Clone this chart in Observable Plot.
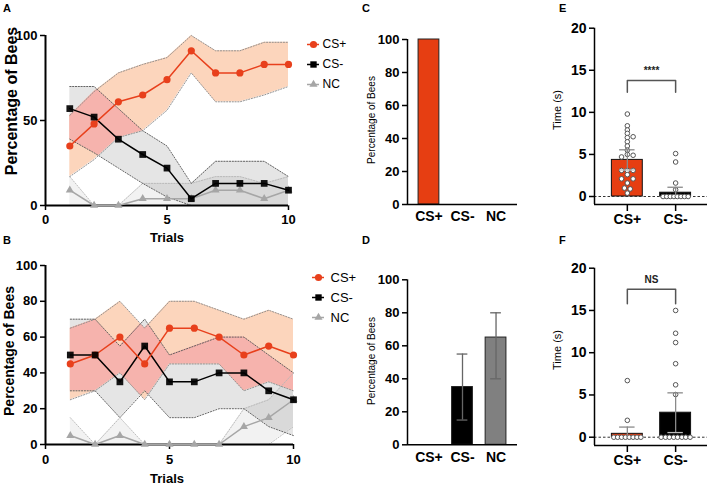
<!DOCTYPE html>
<html><head><meta charset="utf-8">
<script src="https://cdn.jsdelivr.net/npm/d3@7"></script>
<script src="https://cdn.jsdelivr.net/npm/@observablehq/plot@0.6"></script>
<style>
body{margin:0;background:#fff;}
#fig{position:relative;width:708px;height:487px;overflow:hidden;background:#fff;font-family:"Liberation Sans",Arial,sans-serif;color:#000;}
#fig svg{position:absolute;overflow:visible;}
.lab{position:absolute;white-space:nowrap;line-height:1;}
.rot{transform:translate(-50%,-50%) rotate(-90deg);}
.ctr{transform:translate(-50%,-50%);}
.ytick13 [aria-label^="y-axis"] text{font-size:13px;}
.ytick14 [aria-label^="y-axis"] text{font-size:14px;}
#fig [aria-label^="x-axis"] line,#fig [aria-label^="y-axis"] line,#fig [aria-label$="-axis tick"] path{stroke-width:1.5px;}
</style></head><body><div id="fig"></div>
<script>
// ---------- data ----------
const trials = [1,2,3,4,5,6,7,8,9,10];
// Panel A
const aCSplus    = [35,48,61,65,74,91,78,78,83,83];
const aCSplusLo  = [17,27,40,44,56,78,61,61,65,70];
const aCSplusHi  = [53,67,78,83,87,100,91,91,96,96];
const aCSminus   = [57,52,39,30,22,4,13,13,13,9];
const aCSminusLo = [39,31,22,13,5,0,0,0,0,0];
const aCSminusHi = [70,70,57,44,35,13,26,26,26,17];
const aNC        = [9,0,0,4,4,4,9,9,4,9];
const aNCLo      = [0,0,0,0,0,0,0,0,0,0];
const aNCHi      = [17,0,0,13,13,13,17,17,13,17];
// Panel B
const bCSplus    = [45,50,60,45,65,65,60,50,55,50];
const bCSplusLo  = [25,30,40,25,45,45,45,30,35,30];
const bCSplusHi  = [65,70,80,65,80,80,75,70,75,70];
const bCSminus   = [50,50,35,55,35,35,40,40,30,25];
const bCSminusLo = [30,30,15,30,15,15,20,20,10,5];
const bCSminusHi = [70,70,55,70,50,55,60,60,50,40];
const bNC        = [5,0,5,0,0,0,0,10,15,25];
const bNCLo      = [0,0,0,0,0,0,0,0,0,10];
const bNCHi      = [15,0,15,0,0,0,0,20,25,40];
// Panels C, D
const groups3  = ["CS+","CS-","NC"];
const cPercent = [100,0,0];
const dPercent = [0,35,65];
const dLow     = [0,15,40];
const dHigh    = [0,55,80];
// Panels E, F
const groups2 = ["CS+","CS-"];
const eMean = [4.35,0.45];
const eLow  = [3.15,0];
const eHigh = [5.55,1.1];
const ePlusTimes   = [9.8,8.4,7.9,7.5,7.0,7.1,6.5,6.0,5.5,5.0,4.7,4.9,3.1,3.1,3.1,2.6,2.1,2.1,1.6,1.0,0.9,0.4];
const ePlusJitter  = [0,0,0,0,0,0.12,0,0,0,0,-0.12,0.12,0,-0.12,0.12,0,-0.12,0.12,0,-0.06,0.06,0];
const eMinusTimes  = [5.1,4.1,1.6,0.8,0,0,0,0,0,0,0,0];
const eMinusJitter = [0,0,0,0,-0.26,-0.185,-0.11,-0.035,0.035,0.11,0.185,0.26];
const fMean = [0.4,2.9];
const fLow  = [0,0.55];
const fHigh = [1.2,5.25];
const fPlusTimes   = [6.7,2.0,0,0,0,0,0,0,0,0];
const fPlusJitter  = [0,0,-0.28,-0.2,-0.12,-0.04,0.04,0.12,0.2,0.28];
const fMinusTimes  = [15.0,12.3,11.2,8.7,6.2,5.05,0,0,0,0,0,0,0,0];
const fMinusJitter = [0,0,0,0,0,0,-0.3,-0.21,-0.13,-0.04,0.04,0.13,0.21,0.3];
const sigE = {x1:0, x2:1, top:13.8, leg:12.4, label:"****", ly:14.9};
const sigF = {x1:0, x2:1, top:17.5, leg:15.8, label:"NS", ly:18.6};
// Legend
const legendNames   = ["CS+","CS-","NC"];
const legendSymbols = ["circle","square","triangle"];
const legendColors  = ["#e8401c","#000000","#a6a6a6"];

// ---------- helpers ----------
const FONT = "Liberation Sans, Arial, sans-serif";
const fig = document.getElementById("fig");
function put(el, left, top){ el.style.left = left+"px"; el.style.top = top+"px"; fig.appendChild(el); return el; }
function label(text, x, y, size, weight, rotate){
  const d = document.createElement("div");
  d.className = "lab " + (rotate ? "rot" : "ctr");
  d.textContent = text;
  d.style.fontSize = size+"px"; d.style.fontWeight = weight;
  return put(d, x, y);
}
function corner(text, x, y){
  const d = document.createElement("div");
  d.className = "lab"; d.textContent = text;
  d.style.fontSize = "11px"; d.style.fontWeight = "bold";
  return put(d, x, y);
}
const rowsOf = arr => trials.map((t,i)=>({t, v:arr[i]}));
const bandOf = (lo,hi) => trials.map((t,i)=>({t, lo:lo[i], hi:hi[i]}));
function overlapOf(lo1,hi1,lo2,hi2){
  const rows=[], n=trials.length;
  for(let i=0;i<n;i++){
    const fs=[0];
    if(i<n-1){
      for(const [a,b] of [[lo1,lo2],[hi1,hi2],[lo1,hi2],[lo2,hi1]]){
        const d0=a[i]-b[i], d1=a[i+1]-b[i+1];
        if(d0*d1<0) fs.push(d0/(d0-d1));
      }
    }
    fs.sort((p,q)=>p-q);
    for(const f of fs){
      const L = arr => i<n-1 ? arr[i]+(arr[i+1]-arr[i])*f : arr[i];
      const t = i<n-1 ? trials[i]+(trials[i+1]-trials[i])*f : trials[i];
      const y1=Math.max(L(lo1),L(lo2)), y2=Math.min(L(hi1),L(hi2));
      rows.push({t, y1, y2:Math.max(y1,y2)});
    }
  }
  return rows;
}

function trialPanel(p, o){
  const dotted = (arr, c) => Plot.line(rowsOf(arr), {x:"t", y:"v", stroke:c, strokeWidth:0.9, strokeDasharray:"1.2,1.6"});
  return Plot.plot({
    width:o.w, height:o.h, marginLeft:o.ml, marginRight:o.mr, marginTop:o.mt, marginBottom:o.mb,
    className:"ytick13",
    style:{fontFamily:FONT, fontSize:"13px", fontWeight:"bold", color:"#000", background:"transparent"},
    x:{domain:[0,10], ticks:[0,5,10], tickSize:5, tickPadding:o.tp, label:null},
    y:{domain:[0,100], ticks:o.yticks, tickSize:5, tickPadding:3, label:null},
    marks:[
      Plot.areaY(bandOf(p.ncLo,p.ncHi), {x:"t", y1:"lo", y2:"hi", fill:"#000", fillOpacity:0.05}),
      Plot.areaY(bandOf(p.mLo,p.mHi), {x:"t", y1:"lo", y2:"hi", fill:"#000", fillOpacity:0.1}),
      Plot.areaY(bandOf(p.pLo,p.pHi), {x:"t", y1:"lo", y2:"hi", fill:"#fcd5bc"}),
      Plot.areaY(overlapOf(p.pLo,p.pHi,p.mLo,p.mHi), {x:"t", y1:"y1", y2:"y2", fill:"#f6b3ad"}),
      dotted(p.ncHi,"#b5b5b5"), dotted(p.ncLo,"#b5b5b5"),
      dotted(p.mHi,"#555"), dotted(p.mLo,"#555"),
      dotted(p.pHi,"#888"), dotted(p.pLo,"#888"),
      Plot.ruleY([0], {strokeWidth:2}),
      Plot.ruleX([0], {strokeWidth:2}),
      Plot.line(rowsOf(p.nc), {x:"t", y:"v", stroke:"#a6a6a6", strokeWidth:1.5}),
      Plot.dot(rowsOf(p.nc), {x:"t", y:"v", symbol:"triangle", fill:"#a6a6a6", r:3}),
      Plot.line(rowsOf(p.m), {x:"t", y:"v", stroke:"#000", strokeWidth:1.5}),
      Plot.line(rowsOf(p.p), {x:"t", y:"v", stroke:"#e8401c", strokeWidth:1.5}),
      Plot.dot(rowsOf(p.p), {x:"t", y:"v", symbol:"circle", fill:"#e8401c", r:3.6}),
      Plot.dot(rowsOf(p.m), {x:"t", y:"v", symbol:"square", fill:"#000", fillOpacity:0.92, r:3.8})
    ]
  });
}

function legendPlot(textX, size){
  const marks = [];
  legendNames.forEach((nm,i)=>{
    marks.push(Plot.ruleY([nm], {y:d=>d, x1:7, x2:19, stroke:legendColors[i], strokeWidth:1.5}));
    marks.push(Plot.dot([nm], {x:13, y:d=>d, symbol:legendSymbols[i], fill:legendColors[i], r:i===2?3:3.6}));
  });
  marks.push(Plot.text(legendNames, {x:textX, y:d=>d, text:d=>d, textAnchor:"start", fill:"#000"}));
  return Plot.plot({
    width:70, height:60, margin:0,
    style:{fontFamily:FONT, fontSize:size+"px", fontWeight:"normal", background:"transparent", color:"#000"},
    x:{domain:[0,70], range:[0,70], axis:null},
    y:{type:"point", domain:legendNames, range:[10,50], padding:0, axis:null},
    marks
  });
}

function barPanel(vals, lo, hi, o){
  const fills = ["#e63e12","#000000","#808080"];
  const rows = groups3.map((g,i)=>({i, g, v:vals[i], lo:lo ? lo[i] : null, hi:hi ? hi[i] : null, c:fills[i]}));
  const marks = [
    Plot.rect(rows.filter(d=>d.v>0), {x1:d=>d.i-0.31, x2:d=>d.i+0.31, y1:0, y2:"v", fill:"c", stroke:"#222", strokeWidth:1}),
  ];
  if(lo){
    const er = rows.filter(d=>d.hi>0);
    marks.push(Plot.ruleX(er, {x:"i", y1:"lo", y2:"hi", stroke:"#666", strokeWidth:1.3}));
    marks.push(Plot.ruleY(er, {y:"hi", x1:d=>d.i-0.16, x2:d=>d.i+0.16, stroke:"#666", strokeWidth:1.3}));
    marks.push(Plot.ruleY(er, {y:"lo", x1:d=>d.i-0.16, x2:d=>d.i+0.16, stroke:"#666", strokeWidth:1.3}));
  }
  marks.push(Plot.ruleY([0], {strokeWidth:1.5}));
  marks.push(Plot.ruleX([-0.64], {strokeWidth:1.5}));
  return Plot.plot({
    width:170, height:o.h, marginLeft:47, marginRight:13, marginTop:o.mt, marginBottom:o.mb,
    className:"ytick13",
    style:{fontFamily:FONT, fontSize:"14px", fontWeight:"bold", color:"#000", background:"transparent"},
    color:{type:"identity"},
    x:{domain:[-0.64,2.64], ticks:[0,1,2], tickFormat:i=>groups3[i], tickSize:0, tickPadding:7, label:null},
    y:{domain:[0,100], ticks:[0,20,40,60,80,100], tickSize:5, tickPadding:3, label:null},
    marks
  });
}

function timePanel(mean, lo, hi, plus, plusJ, minus, minusJ, sig, o){
  const fills = ["#e63e12","#000000"];
  const rows = groups2.map((g,i)=>({i, g, m:mean[i], lo:lo[i], hi:hi[i], c:fills[i]}));
  const pts = plus.map((v,k)=>({x:0+plusJ[k], y:v})).concat(minus.map((v,k)=>({x:1+minusJ[k], y:v})));
  const br = [{x:sig.x1,y:sig.leg},{x:sig.x1,y:sig.top},{x:sig.x2,y:sig.top},{x:sig.x2,y:sig.leg}];
  return Plot.plot({
    width:168, height:o.h, marginLeft:54, marginRight:1, marginTop:o.mt, marginBottom:o.mb,
    className:"ytick14",
    style:{fontFamily:FONT, fontSize:"14px", fontWeight:"bold", color:"#000", background:"transparent"},
    color:{type:"identity"},
    x:{domain:[-0.68,1.66], ticks:[0,1], tickFormat:i=>groups2[i], tickSize:7, tickPadding:3, label:null},
    y:{domain:[o.ymin,20], ticks:[0,5,10,15,20], tickSize:5, tickPadding:3, label:null},
    marks:[
      Plot.rect(rows, {x1:d=>d.i-0.32, x2:d=>d.i+0.32, y1:0, y2:"m", fill:"c", stroke:"#111", strokeWidth:1}),
      Plot.ruleY([0], {stroke:"#333", strokeWidth:1, strokeDasharray:"2.5,2"}),
      Plot.dot(pts, {x:"x", y:"y", r:2.3, fill:"#fff", stroke:"#555", strokeWidth:1}),
      Plot.ruleX(rows, {x:"i", y1:"lo", y2:"hi", stroke:"#8a8a8a", strokeWidth:1.3}),
      Plot.ruleY(rows, {y:"hi", x1:d=>d.i-0.16, x2:d=>d.i+0.16, stroke:"#8a8a8a", strokeWidth:1.3}),
      Plot.ruleY(rows.filter(d=>d.lo>0), {y:"lo", x1:d=>d.i-0.16, x2:d=>d.i+0.16, stroke:"#bbb", strokeWidth:1.3}),
      Plot.ruleY([o.ymin], {strokeWidth:1.5}),
      Plot.ruleX([-0.68], {strokeWidth:1.5}),
      Plot.line(br, {x:"x", y:"y", stroke:"#555", strokeWidth:1.5}),
      Plot.text([sig.label], {x:(sig.x1+sig.x2)/2, y:sig.ly, text:d=>d, fontSize:10, fontWeight:"bold", fill:"#222"})
    ]
  });
}

// ---------- panels ----------
put(trialPanel({p:aCSplus,pLo:aCSplusLo,pHi:aCSplusHi,m:aCSminus,mLo:aCSminusLo,mHi:aCSminusHi,nc:aNC,ncLo:aNCLo,ncHi:aNCHi},
  {w:300,h:245,ml:45,mr:12,mt:35,mb:40,tp:4,yticks:[0,50,100]}), 0, 0);
put(legendPlot(22,12), 300, 34);
put(trialPanel({p:bCSplus,pLo:bCSplusLo,pHi:bCSplusHi,m:bCSminus,mLo:bCSminusLo,mHi:bCSminusHi,nc:bNC,ncLo:bNCLo,ncHi:bNCHi},
  {w:300,h:242,ml:45,mr:7,mt:20,mb:43,tp:5,yticks:[0,20,40,60,80,100]}), 0, 245);
put(legendPlot(25,13), 305, 267);

put(barPanel(cPercent, null, null, {h:230, mt:39, mb:26}), 360, 0);
put(barPanel(dPercent, dLow, dHigh, {h:235, mt:39.3, mb:30.7}), 360, 240);

put(timePanel(eMean,eLow,eHigh,ePlusTimes,ePlusJitter,eMinusTimes,eMinusJitter,sigE,{h:235, mt:27.7, mb:31, ymin:-0.95}), 540, 0);
put(timePanel(fMean,fLow,fHigh,fPlusTimes,fPlusJitter,fMinusTimes,fMinusJitter,sigF,{h:235, mt:27.7, mb:30, ymin:-0.98}), 540, 240);

// ---------- text ----------
corner("A", 3, 3); corner("B", 3, 235);
corner("C", 362, 3); corner("D", 362, 235);
corner("E", 559, 3); corner("F", 559, 235);
label("Percentage of Bees", 12, 101, 16, "bold", true);
label("Trials", 167, 237, 13, "bold", false);
label("Percentage of Bees", 9, 351, 14, "bold", true);
label("Trials", 167, 478, 13, "bold", false);
label("Percentage of Bees", 372, 120, 10, "normal", true);
label("Percentage of Bees", 372, 361, 10, "normal", true);
label("Time (s)", 557, 110, 11, "normal", true);
label("Time (s)", 557, 350, 11, "normal", true);
</script></body></html>
